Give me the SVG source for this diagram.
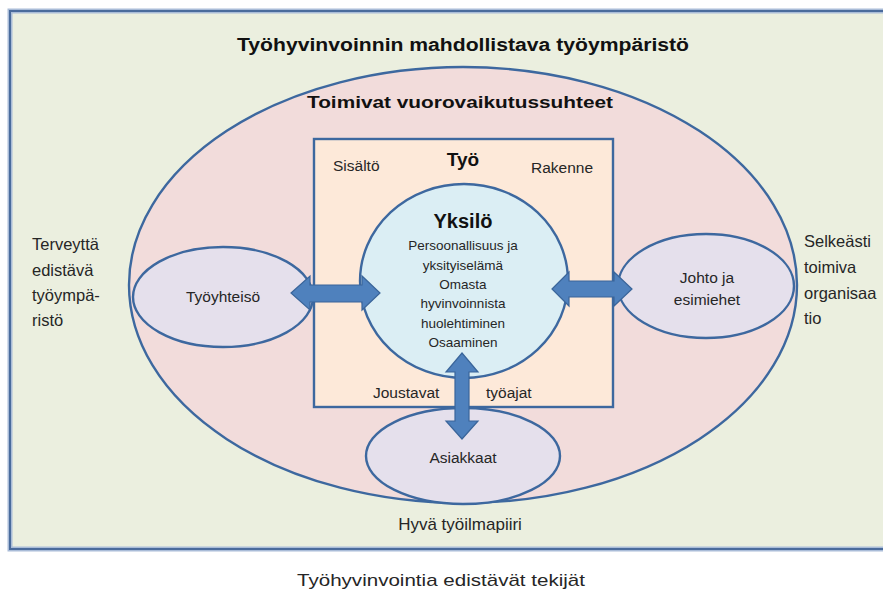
<svg xmlns="http://www.w3.org/2000/svg" width="883" height="594" viewBox="0 0 883 594">
<style>
text{font-family:"Liberation Sans",Arial,sans-serif;fill:#262626;}
.b{font-weight:bold;fill:#111;}
.n{font-size:15.5px;}
.s{font-size:13.5px;}
.side{font-size:16.5px;}
.shape{stroke:#3d689f;stroke-width:2.4;}
.arrow{fill:#4f81bd;stroke:#3a659a;stroke-width:1.2;stroke-linejoin:miter;}
</style>
<rect width="883" height="594" fill="#ffffff"/>
<g id="environment">
<rect x="10" y="11" width="890" height="538" fill="#ebefdf" stroke="#a9bcd8" stroke-width="5"/>
<rect x="10" y="11" width="890" height="538" fill="none" stroke="#4a6b9c" stroke-width="2"/>
<text class="b" x="463" y="51" font-size="18" text-anchor="middle" textLength="452" lengthAdjust="spacingAndGlyphs">Työhyvinvoinnin mahdollistava työympäristö</text>
<text class="side" x="32" y="250">Terveyttä</text>
<text class="side" x="32" y="276">edistävä</text>
<text class="side" x="32" y="301">työympä-</text>
<text class="side" x="32" y="326">ristö</text>
<text class="side" x="804" y="247">Selkeästi</text>
<text class="side" x="804" y="273">toimiva</text>
<text class="side" x="804" y="299">organisaa</text>
<text class="side" x="804" y="324">tio</text>
<text x="460" y="530" font-size="17" text-anchor="middle">Hyvä työilmapiiri</text>
</g>
<g id="interaction">
<ellipse class="shape" cx="463" cy="285" rx="334" ry="218" fill="#f2dcdb"/>
<text class="b" x="460" y="108" font-size="17" text-anchor="middle" textLength="306" lengthAdjust="spacingAndGlyphs">Toimivat vuorovaikutussuhteet</text>
</g>
<g id="work">
<rect class="shape" x="314" y="139" width="299" height="268" fill="#fde9d9"/>
<text class="b" x="463" y="166" font-size="19" text-anchor="middle">Työ</text>
<text class="n" x="333" y="171">Sisältö</text>
<text class="n" x="531" y="173">Rakenne</text>
<text class="n" x="373" y="398">Joustavat</text>
<text class="n" x="486" y="398">työajat</text>
</g>
<g id="individual">
<ellipse class="shape" cx="464" cy="281" rx="104" ry="97" fill="#dbeef4"/>
<text class="b" x="463" y="228" font-size="20" text-anchor="middle">Yksilö</text>
<text class="s" x="463" y="250" text-anchor="middle">Persoonallisuus ja</text>
<text class="s" x="463" y="270" text-anchor="middle">yksityiselämä</text>
<text class="s" x="463" y="289" text-anchor="middle">Omasta</text>
<text class="s" x="463" y="308" text-anchor="middle">hyvinvoinnista</text>
<text class="s" x="463" y="328" text-anchor="middle">huolehtiminen</text>
<text class="s" x="463" y="347" text-anchor="middle">Osaaminen</text>
</g>
<g id="community">
<ellipse class="shape" cx="223" cy="297" rx="90" ry="50" fill="#e5e0ec"/>
<text class="n" x="223" y="302" text-anchor="middle">Työyhteisö</text>
</g>
<g id="management">
<ellipse class="shape" cx="706" cy="286" rx="88" ry="52" fill="#e5e0ec"/>
<text class="n" x="707" y="283" text-anchor="middle">Johto ja</text>
<text class="n" x="707" y="305" text-anchor="middle">esimiehet</text>
</g>
<g id="customers">
<ellipse class="shape" cx="463" cy="456" rx="97" ry="48" fill="#e5e0ec"/>
<text class="n" x="463" y="463" text-anchor="middle">Asiakkaat</text>
</g>
<g id="connectors">
<polygon class="arrow" points="291,293 310,276 310,285 362,285 362,276 380,293 362,310 362,302 310,302 310,310"/>
<polygon class="arrow" points="552,289 569,272 569,281 614,281 614,272 632,289 614,306 614,297 569,297 569,306"/>
<polygon class="arrow" points="462,353 478,372 469,372 469,421 478,421 462,439 446,421 455,421 455,372 446,372"/>
</g>
<text x="441" y="586" font-size="17" text-anchor="middle" textLength="288" lengthAdjust="spacingAndGlyphs">Työhyvinvointia edistävät tekijät</text>
</svg>
